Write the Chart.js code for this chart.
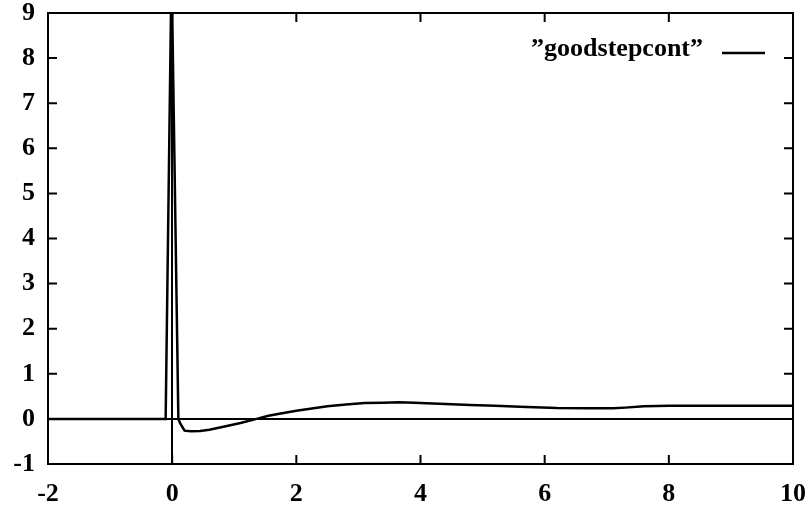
<!DOCTYPE html>
<html>
<head>
<meta charset="utf-8">
<script src="https://cdn.jsdelivr.net/npm/chart.js@4/dist/chart.umd.min.js"></script>
<style>
  html, body { margin: 0; padding: 0; background: #fff; }
  #wrap { width: 808px; height: 508px; }
</style>
</head>
<body>
<div id="wrap"><canvas id="chart" width="808" height="508"></canvas></div>
<script>
// step response samples (time, value)
const seriesName = "\u201dgoodstepcont\u201d";
const timeVals = [
  -2, -0.105, -0.01, 0.1, 0.13, 0.2, 0.3, 0.45, 0.6, 0.9, 1.1, 1.36, 1.55, 1.75,
  2.0, 2.25, 2.5, 2.8, 3.1, 3.4, 3.65, 3.9, 4.4, 4.8, 5.2, 5.6, 6.2, 6.7, 7.1,
  7.3, 7.6, 8.0, 9.0, 10
];
const respVals = [
  0, 0, 10, 0, -0.1, -0.26, -0.275, -0.27, -0.24, -0.15, -0.09, 0, 0.07, 0.12,
  0.18, 0.23, 0.28, 0.32, 0.35, 0.36, 0.37, 0.36, 0.33, 0.31, 0.29, 0.27, 0.24,
  0.235, 0.235, 0.25, 0.28, 0.29, 0.29, 0.29
];
const xTicks = [-2, 0, 2, 4, 6, 8, 10];
const yTicks = [-1, 0, 1, 2, 3, 4, 5, 6, 7, 8, 9];

const labelFont = { family: "'Liberation Serif', 'DejaVu Serif', serif", size: 26, weight: "bold" };

var points = timeVals.map((t, i) => ({ x: t, y: respVals[i] }));

// labels may hang over the plot edges, so drop the extra edge padding
function noEdgePadding(s) {
  s.paddingLeft = 0;
  s.paddingRight = 0;
  s.paddingTop = 0;
  s.paddingBottom = 0;
}

// zero axes, frame, inward ticks and the key, gnuplot style
const framePlugin = {
  id: "frame",
  beforeDatasetsDraw(chart) {
    const { ctx, chartArea: a, scales } = chart;
    const x0 = Math.round(scales.x.getPixelForValue(0));
    const y0 = Math.round(scales.y.getPixelForValue(0));
    ctx.save();
    ctx.strokeStyle = "#000";
    ctx.lineWidth = 2;
    ctx.beginPath();
    ctx.moveTo(a.left, y0);
    ctx.lineTo(a.right, y0);
    ctx.moveTo(x0, a.top);
    ctx.lineTo(x0, a.bottom);
    ctx.stroke();
    ctx.restore();
  },
  afterDatasetsDraw(chart) {
    const { ctx, chartArea: a, scales } = chart;
    const len = 9;
    ctx.save();
    ctx.strokeStyle = "#000";
    ctx.lineWidth = 2;
    ctx.strokeRect(a.left, a.top, a.right - a.left, a.bottom - a.top);
    ctx.beginPath();
    xTicks.forEach((v) => {
      const px = scales.x.getPixelForValue(v);
      ctx.moveTo(px, a.bottom);
      ctx.lineTo(px, a.bottom - len);
      ctx.moveTo(px, a.top);
      ctx.lineTo(px, a.top + len);
    });
    yTicks.forEach((v) => {
      const py = scales.y.getPixelForValue(v);
      ctx.moveTo(a.left, py);
      ctx.lineTo(a.left + len, py);
      ctx.moveTo(a.right, py);
      ctx.lineTo(a.right - len, py);
    });
    ctx.stroke();

    // key: label then line sample
    const ds = chart.data.datasets[0];
    ctx.font = `${labelFont.weight} ${labelFont.size}px ${labelFont.family}`;
    ctx.fillStyle = "#000";
    ctx.textAlign = "right";
    ctx.textBaseline = "middle";
    ctx.fillText(ds.label, 703, 49);
    ctx.lineWidth = ds.borderWidth;
    ctx.beginPath();
    ctx.moveTo(722, 53);
    ctx.lineTo(765, 53);
    ctx.stroke();
    ctx.restore();
  },
};

var ctx = document.getElementById("chart").getContext("2d");
var myChart = new Chart(ctx, {
  type: "line",
  data: {
    datasets: [
      {
        label: seriesName,
        data: points,
        borderColor: "#000",
        borderWidth: 2.5,
        pointRadius: 0,
        tension: 0,
        fill: false,
        clip: 0,
      },
    ],
  },
  options: {
    responsive: false,
    animation: false,
    layout: { padding: { top: 13, right: 15, left: 0, bottom: 0 } },
    plugins: { legend: { display: false }, tooltip: { enabled: false } },
    scales: {
      x: {
        type: "linear",
        min: -2,
        max: 10,
        afterBuildTicks: (s) => { s.ticks = xTicks.map((v) => ({ value: v })); },
        afterFit: (s) => { s.height = 44; noEdgePadding(s); },
        grid: { display: false, drawTicks: false },
        border: { display: false },
        ticks: { color: "#000", font: labelFont, padding: 15, maxRotation: 0, autoSkip: false },
      },
      y: {
        min: -1,
        max: 9,
        afterBuildTicks: (s) => { s.ticks = yTicks.map((v) => ({ value: v })); },
        afterFit: (s) => { s.width = 48; noEdgePadding(s); },
        grid: { display: false, drawTicks: false },
        border: { display: false },
        ticks: { color: "#000", font: labelFont, padding: 13, autoSkip: false },
      },
    },
  },
  plugins: [framePlugin],
});
</script>
</body>
</html>
